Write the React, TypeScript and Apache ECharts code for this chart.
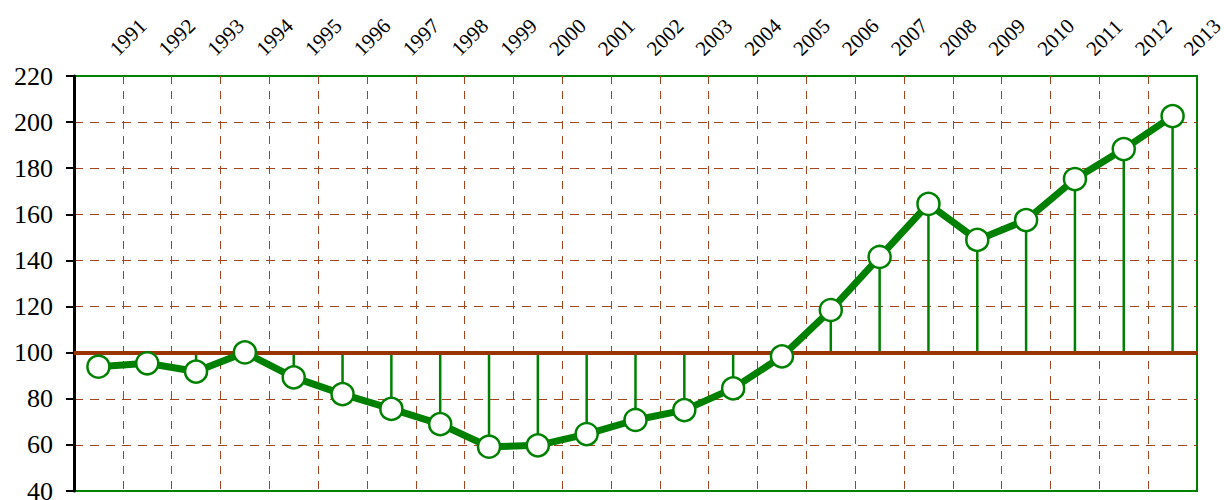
import React, { useEffect, useRef } from "react";
import * as echarts from "echarts";

const years = [
  "1991", "1992", "1993", "1994", "1995", "1996", "1997", "1998", "1999", "2000",
  "2001", "2002", "2003", "2004", "2005", "2006", "2007", "2008", "2009", "2010",
  "2011", "2012", "2013",
];
const values = [
  93.9, 95.4, 91.8, 100.1, 89.3, 82, 75.6, 69, 59.2, 59.8,
  64.7, 70.8, 75.1, 84.5, 98.4, 118.5, 141.5, 164.5, 148.9, 157.5,
  175.3, 188.3, 202.6,
];
const baseValue = 100;
const yMin = 40;
const yMax = 220;
const yStep = 20;

const GREEN = "#008000";
const BROWN = "#993300";
const GRID = "#a0451f";
const FONT = "'Liberation Serif', 'Times New Roman', serif";

export default function App() {
  const ref = useRef<HTMLDivElement>(null);
  useEffect(() => {
    if (!ref.current) return;
    const chart = echarts.init(ref.current, undefined, { renderer: "svg" });
    chart.setOption({
      animation: false,
      backgroundColor: "#ffffff",
      grid: {
        left: 74,
        right: 27,
        top: 76,
        bottom: 9,
        outerBoundsMode: "none",
        containLabel: false,
        show: true,
        borderColor: GREEN,
        borderWidth: 2,
        backgroundColor: "transparent",
      },
      xAxis: {
        type: "category",
        position: "top",
        data: years,
        boundaryGap: true,
        axisLine: { show: false },
        axisTick: { show: false },
        axisLabel: {
          interval: 0,
          rotate: -45,
          margin: 9,
          padding: [0, 0, 0, 21],
          fontFamily: FONT,
          fontSize: 21,
          color: "#000",
        },
        splitLine: {
          show: true,
          interval: 0,
          showMinLine: false,
          showMaxLine: false,
          lineStyle: { color: GRID, width: 1, type: [8, 7] },
        },
      },
      yAxis: {
        type: "value",
        min: yMin,
        max: yMax,
        interval: yStep,
        axisLine: { show: true, lineStyle: { color: "#000", width: 3 } },
        axisTick: { show: true, length: 8, lineStyle: { color: "#000", width: 2 } },
        axisLabel: {
          margin: 21,
          fontFamily: FONT,
          fontSize: 26,
          color: "#000",
        },
        splitLine: {
          show: true,
          showMinLine: false,
          showMaxLine: false,
          lineStyle: { color: GRID, width: 1, type: [9, 7] },
        },
      },
      series: [
        {
          type: "custom",
          z: 2,
          data: values.map((v, i) => [i, v]),
          renderItem: (params: any, api: any) => {
            const i = api.value(0);
            const p1 = api.coord([i, api.value(1)]);
            const p0 = api.coord([i, baseValue]);
            return {
              type: "line",
              shape: { x1: p1[0], y1: p1[1], x2: p0[0], y2: p0[1] },
              style: { stroke: GREEN, lineWidth: 2.5 },
            };
          },
          markLine: {
            silent: true,
            symbol: "none",
            label: { show: false },
            lineStyle: { color: BROWN, width: 4, type: "solid" },
            data: [{ yAxis: baseValue }],
          },
        },
        {
          type: "line",
          z: 5,
          data: values,
          symbol: "circle",
          symbolSize: 22,
          lineStyle: { color: GREEN, width: 7 },
          itemStyle: { color: "#ffffff", borderColor: GREEN, borderWidth: 2.5 },
        },
      ],
    });
    return () => chart.dispose();
  }, []);
  return <div ref={ref} style={{ width: 1224, height: 500, position: "absolute", left: 0, top: 0 }} />;
}
